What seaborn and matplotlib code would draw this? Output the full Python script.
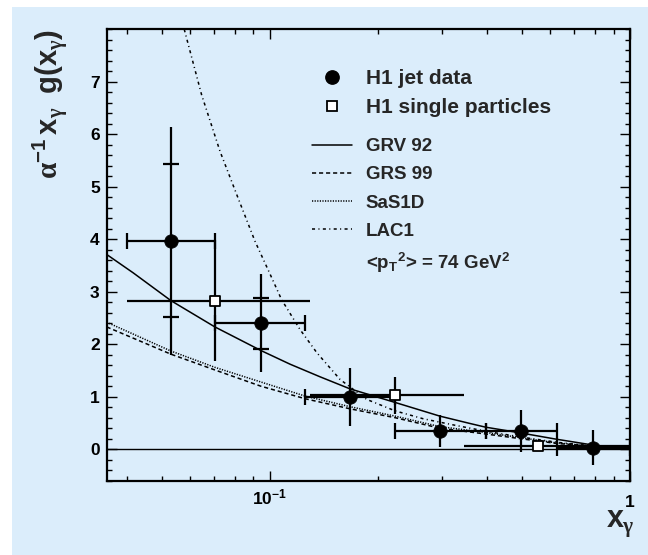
import numpy as np
import pandas as pd
import matplotlib
matplotlib.use("Agg")
import matplotlib.pyplot as plt
import seaborn as sns
from matplotlib.lines import Line2D
from matplotlib.patches import Rectangle
from matplotlib.ticker import FixedLocator, FixedFormatter, NullFormatter, MultipleLocator

# ---------------- data ----------------
# H1 jet data: x_gamma bin centres, bin edges, value, total and statistical errors
jet_x = [0.0531, 0.0944, 0.1668, 0.2965, 0.497, 0.788]
jet_x_lo = [0.0400, 0.0703, 0.1255, 0.2228, 0.397, 0.625]
jet_x_hi = [0.0703, 0.1255, 0.2228, 0.397, 0.625, 1.0]
jet_y = [3.97, 2.40, 0.99, 0.35, 0.35, 0.03]
jet_err_tot = [2.17, 0.93, 0.55, 0.30, 0.40, 0.33]
jet_err_stat = [1.46, 0.49, np.nan, np.nan, np.nan, np.nan]

# H1 single particles
sp_x = [0.0703, 0.2228, 0.556]
sp_x_lo = [0.0402, 0.129, 0.3467]
sp_x_hi = [0.129, 0.3467, 1.0]
sp_y = [2.83, 1.03, 0.06]
sp_err = [1.15, 0.35, 0.10]

# photon gluon density parametrisations
grv_x = [0.0352, 0.0417, 0.0531, 0.0703, 0.0944, 0.1137, 0.1377, 0.1668,
         0.2228, 0.2965, 0.3594, 0.397, 0.497, 0.625, 0.788, 1.0]
grv_y = [3.71, 3.36, 2.83, 2.33, 1.88, 1.62, 1.38, 1.15,
         0.89, 0.63, 0.49, 0.42, 0.31, 0.19, 0.08, 0.0]

grs_x = [0.0352, 0.0531, 0.0703, 0.0944, 0.1255, 0.1668, 0.2228, 0.2965,
         0.397, 0.497, 0.625, 0.788, 1.0]
grs_y = [2.33, 1.81, 1.51, 1.20, 0.96, 0.77, 0.60, 0.40,
         0.29, 0.20, 0.11, 0.06, 0.0]

sas_x = [0.0352, 0.0531, 0.0703, 0.0944, 0.1255, 0.1668, 0.2228, 0.2965,
         0.397, 0.497, 0.625, 0.788, 1.0]
sas_y = [2.42, 1.87, 1.56, 1.28, 1.01, 0.81, 0.63, 0.43,
         0.32, 0.22, 0.12, 0.06, 0.0]

lac_x = [0.0578, 0.0646, 0.0727, 0.0816, 0.0909, 0.100, 0.1077, 0.1212,
         0.1349, 0.1565, 0.1855, 0.2228, 0.2665, 0.33, 0.40, 0.50, 0.63, 0.79, 1.0]
lac_y = [8.0, 6.75, 5.67, 4.78, 3.96, 3.34, 2.85, 2.28,
         1.84, 1.33, 0.95, 0.73, 0.58, 0.45, 0.34, 0.23, 0.13, 0.06, 0.0]

model_names = ["GRV 92", "GRS 99", "SaS1D", "LAC1"]
pt2_label = r"<p${}_{T}$${}^{2}$> = 74 GeV${}^{2}$"

x_ticks = [0.1, 1.0]
x_ticklabels = [r"$10^{-1}$", "1"]

# ---------------- style ----------------
sns.set_theme(style="ticks")
panel_blue = "#dbedfb"
plt.rcParams.update({
    "font.family": ["Liberation Sans", "DejaVu Sans"],
    "font.weight": "bold",
    "mathtext.fontset": "custom",
    "mathtext.rm": "Liberation Sans:bold",
    "mathtext.it": "Liberation Sans:bold",
    "mathtext.bf": "Liberation Sans:bold",
    "mathtext.sf": "Liberation Serif",
    "axes.edgecolor": "black",
    "axes.linewidth": 1.6,
    "xtick.color": "black",
    "ytick.color": "black",
})

fig = plt.figure(figsize=(6.48, 5.55), dpi=100, facecolor="white")
fig.add_artist(Rectangle((12 / 648, 0), 1 - 12 / 648, 1 - 7 / 555,
                         transform=fig.transFigure, facecolor=panel_blue,
                         edgecolor="none", zorder=-10))
ax = fig.add_axes([106.7 / 648, 1 - 480.7 / 555, 523.3 / 648, 451.4 / 555])
ax.set_facecolor("none")

# model curves
models = pd.concat([
    pd.DataFrame({"x": grv_x, "g": grv_y, "model": "GRV 92"}),
    pd.DataFrame({"x": grs_x, "g": grs_y, "model": "GRS 99"}),
    pd.DataFrame({"x": sas_x, "g": sas_y, "model": "SaS1D"}),
    pd.DataFrame({"x": lac_x, "g": lac_y, "model": "LAC1"}),
], ignore_index=True)
dash_styles = {"GRV 92": "", "GRS 99": (2.7, 1.9), "SaS1D": (0.8, 0.9),
               "LAC1": (2.0, 2.2, 0.7, 2.2)}
sns.lineplot(data=models, x="x", y="g", style="model", style_order=model_names,
             dashes=dash_styles, color="black", linewidth=1.1,
             estimator=None, sort=False, legend=False, ax=ax, zorder=3)

# zero line
ax.axhline(0, color="black", lw=1.0, zorder=2)

# error bars: jet data
jx = np.array(jet_x)
jy = np.array(jet_y)
xerr_jet = [jx - np.array(jet_x_lo), np.array(jet_x_hi) - jx]
ax.errorbar(jx, jy, xerr=xerr_jet, fmt="none", ecolor="black",
            elinewidth=1.6, capsize=6, capthick=1.6, zorder=4)
ax.errorbar(jx, jy, yerr=jet_err_tot, fmt="none", ecolor="black",
            elinewidth=1.6, capsize=0, zorder=4)
stat = np.array(jet_err_stat)
m = ~np.isnan(stat)
ax.errorbar(jx[m], jy[m], yerr=stat[m], fmt="none", ecolor="black",
            elinewidth=0, capsize=6, capthick=1.6, zorder=4)

# error bars: single particles
sx = np.array(sp_x)
sy = np.array(sp_y)
xerr_sp = [sx - np.array(sp_x_lo), np.array(sp_x_hi) - sx]
ax.errorbar(sx, sy, xerr=xerr_sp, yerr=sp_err, fmt="none", ecolor="black",
            elinewidth=1.6, capsize=0, zorder=4)

# markers
sns.scatterplot(x=jet_x, y=jet_y, marker="o", s=95, color="black",
                edgecolor="black", linewidth=0.5, ax=ax, zorder=6)
sns.scatterplot(x=sp_x, y=sp_y, marker="s", s=55, color="white",
                edgecolor="black", linewidth=1.3, ax=ax, zorder=6)

# axes
ax.set_xscale("log")
ax.set_xlim(0.0352, 1.0)
ax.set_ylim(-0.6, 8.0)
ax.xaxis.set_major_locator(FixedLocator(x_ticks))
ax.xaxis.set_major_formatter(FixedFormatter(x_ticklabels))
ax.xaxis.set_minor_locator(FixedLocator([0.04, 0.05, 0.06, 0.07, 0.08, 0.09,
                                         0.2, 0.3, 0.4, 0.5, 0.6, 0.7, 0.8, 0.9]))
ax.xaxis.set_minor_formatter(NullFormatter())
ax.yaxis.set_major_locator(FixedLocator(list(range(0, 8))))
ax.yaxis.set_minor_locator(MultipleLocator(0.2))
ax.tick_params(which="both", direction="in", top=True, right=True,
               labelsize=12.5, width=1.0, pad=5)
ax.tick_params(which="major", length=7)
ax.tick_params(which="minor", length=3.5)
for lab in ax.get_xticklabels() + ax.get_yticklabels():
    lab.set_fontweight("bold")

ax.set_ylabel(r"$\mathsf{\alpha}^{-1}\,x_{\mathsf{\gamma}}\;\;g(x_{\mathsf{\gamma}})$",
              fontsize=21, loc="top")
ax.yaxis.set_label_coords(-0.071, 1.0)
ax.set_xlabel(r"$x_{\mathsf{\gamma}}$", fontsize=22, loc="right")
ax.xaxis.set_label_coords(1.009, -0.063)

# push the label "1" down a little
ax.xaxis.get_major_ticks()[1].set_pad(10)

# legends
h_data = [Line2D([], [], ls="none", marker="o", ms=9.6, color="black"),
          Line2D([], [], ls="none", marker="s", ms=7.4, mfc="white",
                 mec="black", mew=1.3)]
leg1 = ax.legend(h_data, ["H1 jet data", "H1 single particles"],
                 loc="upper left", bbox_to_anchor=(0.3917, 0.912),
                 frameon=False, borderpad=0, borderaxespad=0,
                 handlelength=1.92, handletextpad=0.67, labelspacing=0.48,
                 prop={"family": "Liberation Sans", "weight": "bold", "size": 15})
ax.add_artist(leg1)

h_mod = [Line2D([], [], color="black", lw=1.1, ls="-"),
         Line2D([], [], color="black", lw=1.1, dashes=dash_styles["GRS 99"]),
         Line2D([], [], color="black", lw=1.1, dashes=dash_styles["SaS1D"]),
         Line2D([], [], color="black", lw=1.1, dashes=dash_styles["LAC1"]),
         Line2D([], [], ls="none")]
leg2 = ax.legend(h_mod, model_names + [pt2_label],
                 loc="upper left", bbox_to_anchor=(0.3917, 0.759),
                 frameon=False, borderpad=0, borderaxespad=0,
                 handlelength=2.13, handletextpad=0.76, labelspacing=0.59,
                 prop={"family": "Liberation Sans", "weight": "bold", "size": 13.5})

fig.savefig("out.png", dpi=100, facecolor="white")
